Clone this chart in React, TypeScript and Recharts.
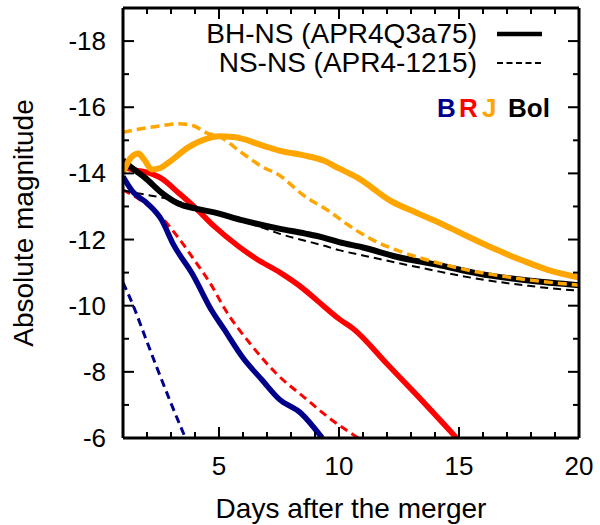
import { LineChart, Line, XAxis, YAxis, Legend } from 'recharts';

const FONT = '"Liberation Sans", Arial, Helvetica, sans-serif';

// days after merger / absolute magnitude
const bhnsBDays = [1, 1.4, 2.0, 2.6, 3.1, 3.9, 4.7, 5.2, 6.0, 6.8, 7.5, 8.4, 9.3];
const bhnsBMag = [-13.9, -13.45, -13.1, -12.6, -11.85, -10.95, -9.85, -9.3, -8.42, -7.75, -7.18, -6.76, -6.0];

const nsnsBDays = [1, 1.4, 1.9, 2.4, 3.0, 3.6];
const nsnsBMag = [-10.7, -10.05, -9.1, -8.15, -7.05, -6.0];

const bhnsRDays = [1, 1.5, 2.0, 2.6, 3.3, 4.0, 4.8, 5.8, 6.55, 7.55, 8.5, 9.1, 10.0, 10.6, 12.0, 13.2, 14.9];
const bhnsRMag = [-14.2, -14.1, -14.03, -13.85, -13.42, -12.97, -12.4, -11.8, -11.42, -11.0, -10.52, -10.15, -9.6, -9.3, -8.24, -7.33, -6.0];

const nsnsRDays = [1, 1.5, 2.0, 2.6, 3.3, 4.0, 4.7, 5.2, 6.3, 7.4, 8.6, 9.6, 10.8];
const nsnsRMag = [-13.5, -13.3, -13.05, -12.67, -12.06, -11.35, -10.6, -9.95, -8.85, -7.94, -7.2, -6.6, -6.0];

const bhnsJDays = [1, 1.3, 1.64, 1.9, 2.2, 2.5, 2.9, 3.7, 4.5, 5.0, 5.6, 6.8, 7.55, 8.5, 9.35, 10.0, 10.75, 12.2, 13.2, 14.2, 15.0, 16.6, 17.7, 18.8, 20];
const bhnsJMag = [-14.03, -14.45, -14.6, -14.4, -14.12, -14.15, -14.33, -14.78, -15.05, -15.12, -15.1, -14.85, -14.68, -14.55, -14.39, -14.15, -13.88, -13.15, -12.82, -12.5, -12.22, -11.68, -11.35, -11.06, -10.85];

const nsnsJDays = [1, 2.0, 2.7, 3.3, 3.9, 4.5, 5.0, 5.9, 6.8, 7.5, 8.5, 9.6, 10.3, 11.4, 12.4, 13.5, 15.1, 17.2, 20];
const nsnsJMag = [-15.24, -15.38, -15.45, -15.5, -15.45, -15.22, -15.12, -14.65, -14.2, -13.95, -13.35, -12.85, -12.48, -11.99, -11.68, -11.42, -11.12, -10.85, -10.62];

const bhnsBolDays = [1, 1.4, 1.9, 2.6, 3.3, 4.0, 4.8, 6.0, 7.5, 8.6, 9.35, 10.0, 11.0, 12.4, 14.2, 15.8, 17.9, 20];
const bhnsBolMag = [-14.4, -14.15, -13.88, -13.42, -13.09, -12.94, -12.82, -12.58, -12.33, -12.18, -12.06, -11.92, -11.76, -11.48, -11.22, -10.97, -10.76, -10.62];

const nsnsBolDays = [1, 2.0, 2.6, 3.5, 4.2, 5.0, 6.0, 6.8, 7.5, 8.5, 9.35, 10.0, 11.0, 12.4, 14.2, 15.1, 17.9, 20];
const nsnsBolMag = [-13.48, -13.35, -13.27, -13.1, -12.92, -12.75, -12.55, -12.36, -12.18, -11.98, -11.82, -11.68, -11.52, -11.3, -11.03, -10.9, -10.6, -10.45];

const X_MAJOR = [5, 10, 15, 20];
const X_TICKS = [2, 3, 4, 5, 6, 7, 8, 9, 10, 11, 12, 13, 14, 15, 16, 17, 18, 19, 20];
const Y_MAJOR = [-18, -16, -14, -12, -10, -8, -6];
const Y_TICKS = [-18, -17, -16, -15, -14, -13, -12, -11, -10, -9, -8, -7, -6];

const MODELS = ['BH-NS (APR4Q3a75)', 'NS-NS (APR4-1215)'];
const BANDS = ['B', 'R', 'J', 'Bol'];
const BAND_COLORS: Record<string, string> = { B: '#00008b', R: '#ff0000', J: '#ffa500', Bol: '#000000' };

const zip = (days: number[], mag: number[]) => days.map((x, i) => ({ x, y: mag[i] }));

// drawing order: later ones sit on top
const series = [
  { key: 'bhnsR', data: zip(bhnsRDays, bhnsRMag), color: BAND_COLORS.R, width: 5.5, dash: undefined },
  { key: 'nsnsR', data: zip(nsnsRDays, nsnsRMag), color: BAND_COLORS.R, width: 3, dash: '8 5' },
  { key: 'nsnsBol', data: zip(nsnsBolDays, nsnsBolMag), color: BAND_COLORS.Bol, width: 2, dash: '8 5' },
  { key: 'bhnsBol', data: zip(bhnsBolDays, bhnsBolMag), color: BAND_COLORS.Bol, width: 6, dash: undefined },
  { key: 'nsnsB', data: zip(nsnsBDays, nsnsBMag), color: BAND_COLORS.B, width: 3, dash: '8 5' },
  { key: 'bhnsB', data: zip(bhnsBDays, bhnsBMag), color: BAND_COLORS.B, width: 5.5, dash: undefined },
  { key: 'bhnsJ', data: zip(bhnsJDays, bhnsJMag), color: BAND_COLORS.J, width: 6, dash: undefined },
  { key: 'nsnsJ', data: zip(nsnsJDays, nsnsJMag), color: BAND_COLORS.J, width: 3.5, dash: '9 5' },
];

const MAJOR_LEN = 11;
const MINOR_LEN = 6;
const frame = { stroke: '#000', strokeWidth: 3 };

function BottomTick(props: any) {
  const { x, y, payload } = props;
  const major = X_MAJOR.includes(payload.value);
  return (
    <g>
      <line x1={x} y1={y} x2={x} y2={y - (major ? MAJOR_LEN : MINOR_LEN)} stroke="#000" strokeWidth={2} />
      {major && (
        <text x={x} y={y + 37} textAnchor="middle" fontSize={26} fontFamily={FONT} fill="#000">
          {payload.value}
        </text>
      )}
    </g>
  );
}

function TopTick(props: any) {
  const { x, y, payload } = props;
  const major = X_MAJOR.includes(payload.value);
  return <line x1={x} y1={y} x2={x} y2={y + (major ? MAJOR_LEN : MINOR_LEN)} stroke="#000" strokeWidth={2} />;
}

function LeftTick(props: any) {
  const { x, y, payload } = props;
  const major = Y_MAJOR.includes(payload.value);
  return (
    <g>
      <line x1={x} y1={y} x2={x + (major ? MAJOR_LEN : MINOR_LEN)} y2={y} stroke="#000" strokeWidth={2} />
      {major && (
        <text x={x - 17} y={y + 9} textAnchor="end" fontSize={26} fontFamily={FONT} fill="#000">
          {payload.value}
        </text>
      )}
    </g>
  );
}

function RightTick(props: any) {
  const { x, y, payload } = props;
  const major = Y_MAJOR.includes(payload.value);
  return <line x1={x} y1={y} x2={x - (major ? MAJOR_LEN : MINOR_LEN)} y2={y} stroke="#000" strokeWidth={2} />;
}

function YTitle(props: any) {
  const vb = props.viewBox || { x: 0, y: 8, width: 123, height: 430 };
  const cy = vb.y + vb.height / 2;
  return (
    <text x={33} y={cy} transform={`rotate(-90, 33, ${cy})`} textAnchor="middle" fontSize={28} fontFamily={FONT} fill="#000">
      Absolute magnitude
    </text>
  );
}

function KeyBox() {
  const bandX = [437, 459, 482, 508];
  return (
    <svg width={600} height={130} style={{ display: 'block', fontFamily: FONT }}>
      <text x={477} y={43} textAnchor="end" fontSize={28} fill="#000">{MODELS[0]}</text>
      <line x1={497} x2={542} y1={34} y2={34} stroke="#000" strokeWidth={4.5} />
      <text x={477} y={72} textAnchor="end" fontSize={28} fill="#000">{MODELS[1]}</text>
      <line x1={497} x2={542} y1={63} y2={63} stroke="#000" strokeWidth={2} strokeDasharray="6 3.5" />
      {BANDS.map((b, i) => (
        <text key={b} x={bandX[i]} y={117} fontSize={26} fontWeight="bold" fill={BAND_COLORS[b]}>
          {b}
        </text>
      ))}
    </svg>
  );
}

export default function App() {
  return (
    <div style={{ position: 'absolute', left: 0, top: 0, fontFamily: FONT }}>
      <LineChart width={600} height={525} margin={{ top: 7, right: 20, bottom: 0, left: 0 }}>
        <XAxis
          type="number"
          dataKey="x"
          domain={[1, 20]}
          allowDataOverflow
          ticks={X_TICKS}
          interval={0}
          tick={<BottomTick />}
          tickLine={false}
          tickSize={0}
          tickMargin={0}
          axisLine={frame}
          height={87}
          label={{ value: 'Days after the merger', position: 'insideBottom', offset: 7, fontSize: 28, fill: '#000', fontFamily: FONT }}
        />
        <XAxis
          xAxisId="top"
          orientation="top"
          type="number"
          dataKey="x"
          domain={[1, 20]}
          allowDataOverflow
          ticks={X_TICKS}
          interval={0}
          tick={<TopTick />}
          tickLine={false}
          tickSize={0}
          tickMargin={0}
          axisLine={frame}
          height={1}
        />
        <YAxis
          type="number"
          domain={[-19, -6]}
          reversed
          allowDataOverflow
          ticks={Y_TICKS}
          interval={0}
          tick={<LeftTick />}
          tickLine={false}
          tickSize={0}
          tickMargin={0}
          axisLine={frame}
          width={123}
          label={<YTitle />}
        />
        <YAxis
          yAxisId="right"
          orientation="right"
          type="number"
          domain={[-19, -6]}
          reversed
          allowDataOverflow
          ticks={Y_TICKS}
          interval={0}
          tick={<RightTick />}
          tickLine={false}
          tickSize={0}
          tickMargin={0}
          axisLine={frame}
          width={1}
        />
        <Legend
          content={() => <KeyBox />}
          layout="horizontal"
          align="center"
          verticalAlign="middle"
          wrapperStyle={{ left: 0, top: 0, width: 600, height: 130, pointerEvents: 'none' }}
        />
        {series.map((s) => (
          <Line
            key={s.key}
            data={s.data}
            dataKey="y"
            type="monotone"
            stroke={s.color}
            strokeWidth={s.width}
            strokeDasharray={s.dash}
            dot={false}
            activeDot={false}
            isAnimationActive={false}
          />
        ))}
        {/* carries the top and right frame axes */}
        <Line
          xAxisId="top"
          yAxisId="right"
          data={series[3].data}
          dataKey="y"
          stroke="none"
          dot={false}
          activeDot={false}
          legendType="none"
          isAnimationActive={false}
        />
      </LineChart>
    </div>
  );
}
